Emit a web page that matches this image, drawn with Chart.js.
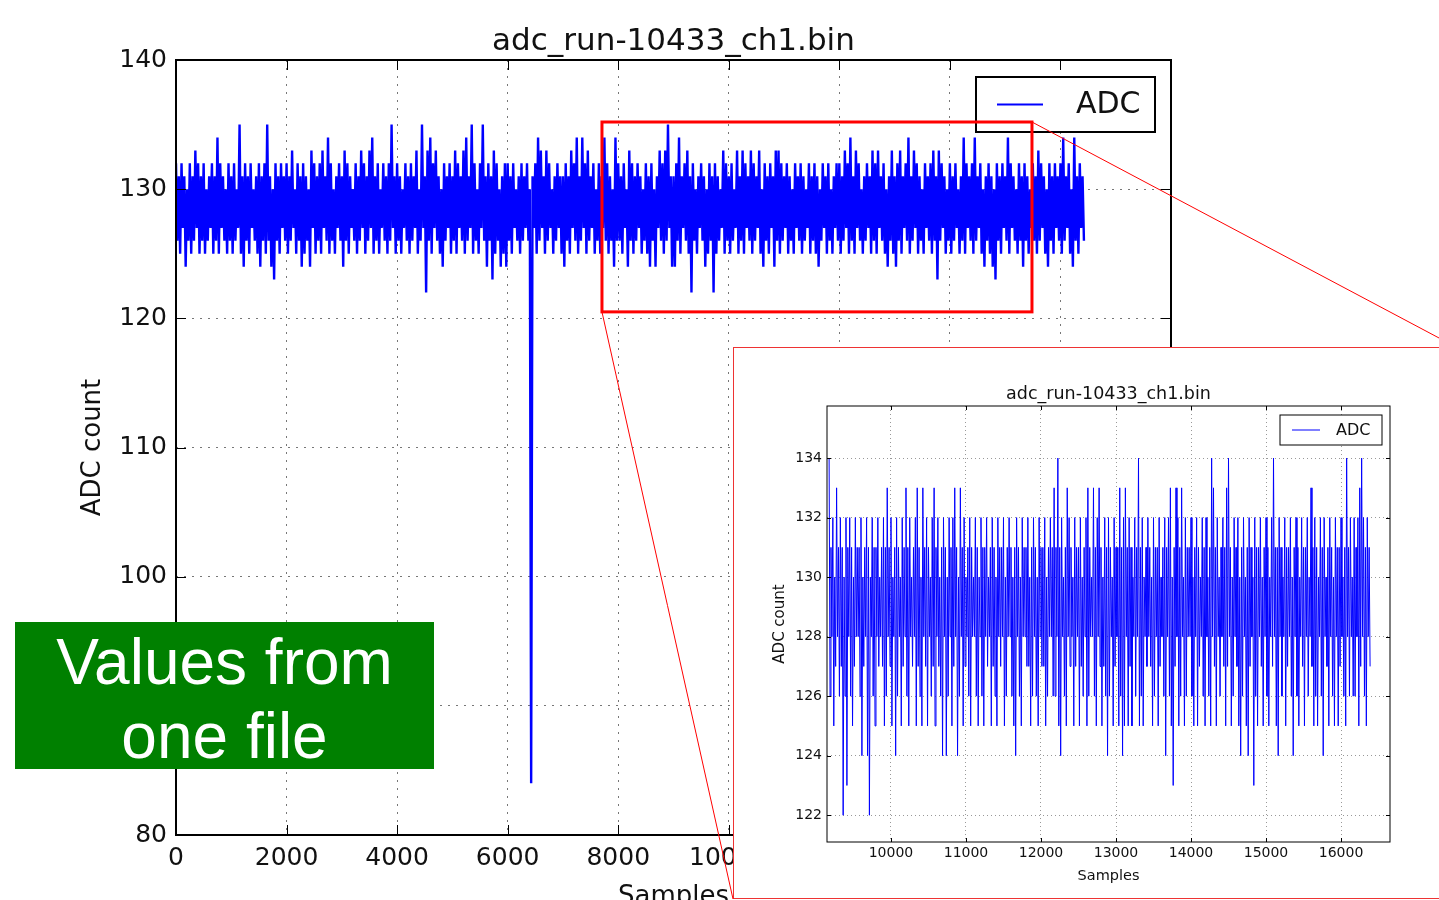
<!DOCTYPE html>
<html>
<head>
<meta charset="utf-8">
<title>adc_run-10433_ch1.bin</title>
<script src="https://cdn.jsdelivr.net/npm/chart.js@4.4.1/dist/chart.umd.min.js"></script>
<style>
  html, body { margin: 0; padding: 0; background: #fff; overflow: hidden; }
  body { width: 1439px; height: 900px; position: relative; }
  #mainCanvas { position: absolute; left: 0; top: 0; z-index: 1; }
  #note {
    position: absolute; left: 15px; top: 622px; width: 419px; height: 147px;
    box-sizing: border-box; padding-top: 3px; z-index: 2;
    background: #008000; color: #fff; text-align: center;
    font-family: "Liberation Sans", Arial, sans-serif; font-size: 64px; line-height: 74px;
  }
  #insetWrap {
    position: absolute; left: 733px; top: 347px; width: 723px; height: 552px;
    box-sizing: border-box; border: 1px solid #ee3333; background: #fff; z-index: 3;
  }
  #insetCanvas { position: absolute; left: 0; top: 0; }
  #overlay { position: absolute; left: 0; top: 0; z-index: 4; pointer-events: none; }
</style>
</head>
<body>
<canvas id="mainCanvas" width="1439" height="940"></canvas>
<div id="note">Values from<br>one file</div>
<div id="insetWrap"><canvas id="insetCanvas" width="721" height="550"></canvas></div>
<canvas id="overlay" width="1439" height="900"></canvas>

<script>
// ---- values ----
const chartTitle = 'adc_run-10433_ch1.bin';
const seriesLabel = 'ADC';

// full run, buckets of 50 samples (0 .. 16400): highest and lowest reading in each
const mainSampleStep = 50;
const mainHigh = [
  132,131,132,131,130,132,131,133,132,131,132,130,131,132,131,134,132,131,130,132,
  131,132,130,135,131,132,131,132,130,131,132,131,132,135,131,130,132,131,132,131,
  132,131,133,130,132,131,132,131,130,133,132,131,132,133,131,134,132,130,131,132,
  131,133,132,131,130,132,131,133,132,131,133,134,131,132,130,132,131,132,135,131,
  132,131,130,132,131,132,131,133,130,135,131,133,134,132,133,131,130,132,131,132,
  131,133,132,131,133,134,131,135,132,130,132,135,131,132,131,133,132,130,131,132,
  132,131,132,130,131,132,131,132,130,131,132,134,133,131,133,132,130,131,132,131,
  131,132,131,133,132,134,131,134,132,133,131,132,130,132,131,134,132,131,130,134,
  132,131,132,130,133,132,131,132,131,130,132,131,132,130,131,133,132,133,135,131,
  131,132,134,131,132,133,131,132,130,131,132,131,130,132,131,132,131,130,133,132,
  131,132,130,133,131,133,132,131,133,132,131,133,130,132,131,132,131,133,133,132,
  131,132,131,130,132,131,132,131,130,132,131,132,131,130,132,131,132,130,131,132,
  132,131,133,132,134,131,133,132,130,131,132,131,133,132,133,131,132,130,131,133,
  131,132,133,131,132,134,131,133,132,131,130,132,131,132,133,131,133,132,131,130,
  132,131,132,130,131,134,132,131,132,134,131,132,130,131,132,131,130,132,131,132,
  131,134,132,131,130,132,131,132,131,130,132,131,133,132,131,130,132,131,132,131,
  132,134,131,132,130,134,131,132,131
];
const mainLow = [
  126,125,127,124,126,125,126,127,125,126,125,126,127,125,126,125,127,126,125,126,
  125,126,127,125,124,126,125,127,126,125,124,126,125,126,124,123,126,125,127,126,
  125,126,127,125,126,124,125,126,124,127,125,126,125,127,126,125,126,125,127,126,
  124,126,125,127,126,125,126,127,125,126,127,125,126,125,127,126,125,126,127,125,
  126,125,127,126,125,126,127,125,126,127,122,126,125,127,126,125,124,126,127,125,
  126,125,127,126,125,126,127,125,126,125,127,126,124,126,123,125,126,124,125,124,
  126,125,127,126,125,126,127,126,84,127,125,126,127,125,126,127,125,126,127,125,
  124,126,125,127,126,125,126,127,125,126,127,125,126,125,127,126,125,126,124,126,
  126,125,127,124,126,125,126,127,125,126,125,124,126,124,127,126,125,126,127,124,
  124,126,125,127,126,125,122,126,125,127,126,124,125,126,122,125,126,127,125,126,
  125,126,127,125,126,125,127,126,125,126,127,125,124,126,125,127,124,126,125,126,
  127,125,126,125,127,126,125,126,127,125,126,125,124,126,127,125,126,125,127,126,
  125,126,127,125,126,125,127,126,125,126,127,125,126,125,127,126,125,124,126,125,
  124,126,125,127,126,125,126,127,125,126,125,127,126,125,126,123,126,127,125,126,
  125,126,127,125,126,125,127,126,125,126,127,125,124,126,125,124,123,126,125,127,
  126,125,127,126,125,126,124,126,125,127,126,125,126,127,125,124,126,125,127,126,
  125,126,127,125,124,126,125,127,126
];
const mainXTicks = [0, 2000, 4000, 6000, 8000, 10000, 12000, 14000, 16000, 18000];
const mainYTicks = [80, 90, 100, 110, 120, 130, 140];

// zoomed view, buckets of 25 samples from sample 9175: highest and lowest reading
const insetFirstSample = 9175;
const insetSampleStep = 25;
const insetHigh = [
  134,131,132,130,133,131,132,131,130,132,131,132,131,130,132,131,131,132,130,131,
  132,131,130,132,131,131,132,130,131,132,131,133,131,132,130,131,132,131,130,132,
  131,133,131,132,130,131,132,133,131,130,133,131,132,131,130,132,133,131,132,130,
  131,132,131,130,132,131,132,133,131,130,133,131,132,130,131,132,131,130,132,131,
  130,132,131,131,132,130,131,132,131,130,132,131,131,132,130,131,132,131,130,131,
  132,131,130,132,131,131,132,130,131,132,131,130,132,131,131,132,130,131,132,131,
  133,131,134,131,132,130,131,133,132,131,130,132,131,131,132,130,131,132,133,131,
  130,133,131,132,133,131,130,132,131,132,131,130,132,131,131,133,131,132,133,131,
  132,131,130,132,131,134,131,132,130,131,132,131,130,132,131,131,132,130,131,132,
  131,132,133,130,131,133,132,131,133,130,132,131,131,132,130,131,132,131,130,132,
  131,132,130,131,134,133,131,132,130,131,132,131,133,134,131,130,132,131,132,130,
  131,132,130,131,132,131,130,132,131,131,132,130,131,132,131,130,132,134,131,131,
  132,131,130,132,131,131,132,130,131,132,131,130,132,131,131,132,130,133,131,132,
  131,130,132,131,132,130,131,132,131,130,132,131,131,132,130,131,134,131,132,130,
  132,131,132,133,134,132,131,132,131
];
const insetLow = [
  126,128,125,127,128,126,127,122,126,123,128,126,125,127,128,128,126,124,127,128,
  124,122,128,126,125,128,127,128,127,125,126,128,127,125,128,124,126,128,125,127,
  128,126,125,128,127,128,125,127,126,125,128,127,125,128,126,127,125,128,127,126,
  124,128,124,126,128,125,127,128,124,126,128,125,127,128,126,125,128,128,126,125,
  128,126,125,128,127,128,125,127,126,125,128,127,128,125,126,128,128,126,125,124,
  128,126,125,128,128,127,127,125,126,128,126,125,128,127,127,125,126,128,128,126,
  126,128,125,124,128,126,125,128,127,128,125,127,128,125,127,126,128,125,126,128,
  128,126,125,128,127,125,127,126,124,126,128,125,127,128,125,126,124,125,128,125,
  127,125,128,126,128,125,126,125,128,127,128,127,125,126,128,125,127,128,126,124,
  128,126,125,123,127,128,125,126,128,125,126,128,128,126,125,128,125,127,128,126,
  125,128,126,125,128,127,125,128,126,128,127,125,127,128,125,126,128,127,125,124,
  126,128,125,124,127,128,123,126,125,128,127,125,128,126,125,128,127,128,125,124,
  128,126,128,125,127,128,126,124,128,126,125,128,127,125,128,126,128,127,125,126,
  125,128,126,124,128,127,125,128,126,125,128,125,127,128,126,125,128,126,128,126,
  126,128,125,127,128,126,125,128,127
];
const insetXTicks = [10000, 11000, 12000, 13000, 14000, 15000, 16000];
const insetYTicks = [122, 124, 126, 128, 130, 132, 134];

// part of the full run that the inset enlarges (data units)
const zoomRegion = { xMin: 7706, xMax: 15485, yMin: 120.5, yMax: 135.2 };

Chart.defaults.font.family = '"DejaVu Sans", sans-serif';
Chart.defaults.color = '#111';

// each bucket is drawn as its high reading followed by its low reading
function bucketPoints(high, low, first, step) {
  const pts = [];
  high.forEach((h, i) => {
    pts.push({ x: first + i * step, y: h });
    pts.push({ x: first + i * step + step / 2, y: low[i] });
  });
  return pts;
}

// matplotlib-like frame: title, box, inward ticks, boxed legend, optional zoom rectangle
const mplFrame = {
  id: 'mplFrame',
  afterDatasetsDraw(chart, args, o) {
    const { ctx, chartArea: a, scales: { x, y } } = chart;
    ctx.save();

    // title centred over the plot area
    ctx.fillStyle = '#111';
    ctx.font = o.title.size + 'px "DejaVu Sans"';
    ctx.textAlign = 'center';
    ctx.textBaseline = 'alphabetic';
    ctx.fillText(o.title.text, (a.left + a.right) / 2, a.top - o.title.offset);

    ctx.strokeStyle = '#000';
    ctx.lineWidth = 1;
    ctx.beginPath();
    x.ticks.forEach(t => {
      const px = Math.round(x.getPixelForValue(t.value)) + 0.5;
      ctx.moveTo(px, a.bottom); ctx.lineTo(px, a.bottom - o.tickLen);
      ctx.moveTo(px, a.top); ctx.lineTo(px, a.top + o.tickLen);
    });
    y.ticks.forEach(t => {
      const py = Math.round(y.getPixelForValue(t.value)) + 0.5;
      ctx.moveTo(a.left, py); ctx.lineTo(a.left + o.tickLen, py);
      ctx.moveTo(a.right, py); ctx.lineTo(a.right - o.tickLen, py);
    });
    ctx.stroke();
    ctx.lineWidth = o.frameWidth;
    ctx.strokeRect(a.left, a.top, a.width, a.height);

    // legend
    const L = o.legend;
    const ds = chart.data.datasets[0];
    const lx = a.right - L.right - L.width;
    const ly = a.top + L.top;
    ctx.fillStyle = '#fff';
    ctx.fillRect(lx, ly, L.width, L.height);
    ctx.lineWidth = L.borderWidth;
    ctx.strokeRect(lx, ly, L.width, L.height);
    ctx.strokeStyle = ds.borderColor;
    ctx.lineWidth = L.lineWidth;
    ctx.beginPath();
    ctx.moveTo(lx + L.lineStart, ly + L.height / 2);
    ctx.lineTo(lx + L.lineEnd, ly + L.height / 2);
    ctx.stroke();
    ctx.fillStyle = '#111';
    ctx.font = L.fontSize + 'px "DejaVu Sans"';
    ctx.textAlign = 'left';
    ctx.textBaseline = 'middle';
    ctx.fillText(ds.label, lx + L.textX, ly + L.height / 2 + 1);

    // zoom rectangle
    if (o.zoom) {
      const z = o.zoom;
      const x0 = x.getPixelForValue(z.xMin), x1 = x.getPixelForValue(z.xMax);
      const y0 = y.getPixelForValue(z.yMax), y1 = y.getPixelForValue(z.yMin);
      ctx.strokeStyle = '#ff0000';
      ctx.lineWidth = 3;
      ctx.strokeRect(x0, y0, x1 - x0, y1 - y0);
    }
    ctx.restore();
  }
};

const mainChart = new Chart(document.getElementById('mainCanvas'), {
  type: 'line',
  data: {
    datasets: [{
      label: seriesLabel,
      data: bucketPoints(mainHigh, mainLow, 0, mainSampleStep),
      borderColor: '#0000ff',
      borderWidth: 2.4,
      pointRadius: 0,
      tension: 0
    }]
  },
  options: {
    responsive: false,
    animation: false,
    events: [],
    layout: { padding: { left: 0, right: 268, top: 60, bottom: 10 } },
    plugins: {
      legend: { display: false },
      tooltip: { enabled: false },
      title: { display: false },
      mplFrame: {
        tickLen: 10, frameWidth: 2, zoom: zoomRegion,
        title: { text: chartTitle, size: 31, offset: 10 },
        legend: { right: 16, top: 17, width: 179, height: 55, borderWidth: 2, lineWidth: 2,
                  lineStart: 21, lineEnd: 67, textX: 100, fontSize: 30 }
      }
    },
    scales: {
      x: {
        type: 'linear', min: 0, max: 18000,
        afterBuildTicks: s => { s.ticks = mainXTicks.map(v => ({ value: v })); },
        afterFit: s => { s.height = 95; },
        ticks: { font: { size: 25 }, padding: 8, maxRotation: 0, autoSkip: false, callback: v => String(v) },
        grid: { color: '#777', lineWidth: 1, drawTicks: false },
        border: { display: false, dash: [2, 6] },
        title: { display: true, text: 'Samples', font: { size: 26 }, padding: { top: 0, bottom: 17 } }
      },
      y: {
        type: 'linear', min: 80, max: 140,
        afterBuildTicks: s => { s.ticks = mainYTicks.map(v => ({ value: v })); },
        afterFit: s => { s.width = 176; },
        ticks: { font: { size: 25 }, padding: 9, callback: v => String(v) },
        grid: { color: '#777', lineWidth: 1, drawTicks: false },
        border: { display: false, dash: [2, 6] },
        title: { display: true, text: 'ADC count', font: { size: 26 }, padding: { top: 78, bottom: 0 } }
      }
    }
  },
  plugins: [mplFrame]
});

const insetChart = new Chart(document.getElementById('insetCanvas'), {
  type: 'line',
  data: {
    datasets: [{
      label: seriesLabel,
      data: bucketPoints(insetHigh, insetLow, insetFirstSample, insetSampleStep),
      borderColor: '#0000ff',
      borderWidth: 1,
      pointRadius: 0,
      tension: 0
    }]
  },
  options: {
    responsive: false,
    animation: false,
    events: [],
    layout: { padding: { left: 0, right: 65, top: 58, bottom: 0 } },
    plugins: {
      legend: { display: false },
      tooltip: { enabled: false },
      title: { display: false },
      mplFrame: {
        tickLen: 4, frameWidth: 1,
        title: { text: chartTitle, size: 17.5, offset: 7 },
        legend: { right: 8, top: 9, width: 102, height: 30, borderWidth: 1, lineWidth: 1,
                  lineStart: 12, lineEnd: 40, textX: 56, fontSize: 16 }
      }
    },
    scales: {
      x: {
        type: 'linear', min: 9147, max: 16653,
        afterBuildTicks: s => { s.ticks = insetXTicks.map(v => ({ value: v })); },
        afterFit: s => { s.height = 56; },
        ticks: { font: { size: 14 }, padding: 3, maxRotation: 0, autoSkip: false, callback: v => String(v) },
        grid: { color: '#999', lineWidth: 1, drawTicks: false },
        border: { display: false, dash: [1, 3] },
        title: { display: true, text: 'Samples', font: { size: 14.5 }, padding: { top: 0, bottom: 13 } }
      },
      y: {
        type: 'linear', min: 121.1, max: 135.75,
        afterBuildTicks: s => { s.ticks = insetYTicks.map(v => ({ value: v })); },
        afterFit: s => { s.width = 93; },
        ticks: { font: { size: 14 }, padding: 5, callback: v => String(v) },
        grid: { color: '#999', lineWidth: 1, drawTicks: false },
        border: { display: false, dash: [1, 3] },
        title: { display: true, text: 'ADC count', font: { size: 15 }, padding: { top: 37, bottom: 0 } }
      }
    }
  },
  plugins: [mplFrame]
});

// thin red lines joining the zoom rectangle to the inset corners
function drawConnectors() {
  const ctx = document.getElementById('overlay').getContext('2d');
  const { x, y } = mainChart.scales;
  const inset = document.getElementById('insetWrap').getBoundingClientRect();
  ctx.strokeStyle = '#ff0000';
  ctx.lineWidth = 1;
  ctx.beginPath();
  ctx.moveTo(x.getPixelForValue(zoomRegion.xMax), y.getPixelForValue(zoomRegion.yMax));
  ctx.lineTo(inset.right, inset.top);
  ctx.moveTo(x.getPixelForValue(zoomRegion.xMin), y.getPixelForValue(zoomRegion.yMin));
  ctx.lineTo(inset.left, inset.bottom);
  ctx.stroke();
}
drawConnectors();
</script>
</body>
</html>
